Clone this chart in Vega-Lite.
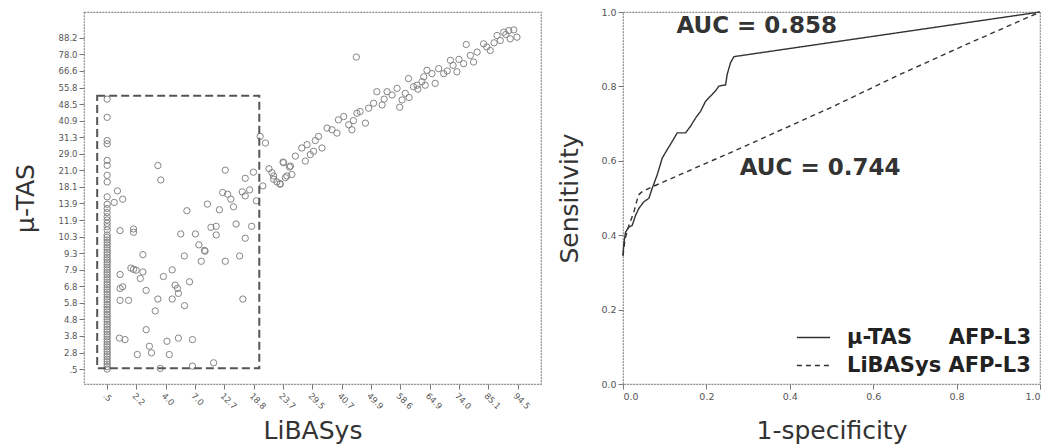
{
  "$schema": "https://vega.github.io/schema/vega-lite/v6.json",
  "padding": {"left": 12, "top": 6, "right": 4, "bottom": 0},
  "spacing": 15,
  "background": "white",
  "resolve": {"scale": {"strokeDash": "independent"}, "legend": {"strokeDash": "independent"}},
  "config": {
    "view": {"stroke": "#8a8a8a", "strokeWidth": 1.2, "strokeDash": [2, 1]},
    "font": "DejaVu Sans",
    "axis": {
      "grid": false, "domain": false, "tickColor": "#777", "tickSize": 5, "labelOverlap": false,
      "labelColor": "#555", "titleColor": "#333", "titleFontWeight": "normal",
      "titleFont": "DejaVu Sans", "labelFont": "DejaVu Sans", "titleFontSize": 25
    }
  },
  "datasets": {
    "scatter": [
      {"lib":0,"tas":0},{"lib":0,"tas":0.15},{"lib":0,"tas":0.3},{"lib":0,"tas":0.45},{"lib":0,"tas":0.6},{"lib":0,"tas":0.75},{"lib":0,"tas":0.9},{"lib":0,"tas":1.05},{"lib":0,"tas":1.2},{"lib":0,"tas":1.35},{"lib":0,"tas":1.5},{"lib":0,"tas":1.65},{"lib":0,"tas":1.8},{"lib":0,"tas":1.95},{"lib":0,"tas":2.1},{"lib":0,"tas":2.25},{"lib":0,"tas":2.4},{"lib":0,"tas":2.55},{"lib":0,"tas":2.7},{"lib":0,"tas":2.85},{"lib":0,"tas":3.0},{"lib":0,"tas":3.15},{"lib":0,"tas":3.3},{"lib":0,"tas":3.45},{"lib":0,"tas":3.6},{"lib":0,"tas":3.75},{"lib":0,"tas":3.9},{"lib":0,"tas":4.05},{"lib":0,"tas":4.2},{"lib":0,"tas":4.35},{"lib":0,"tas":4.5},{"lib":0,"tas":4.65},{"lib":0,"tas":4.8},{"lib":0,"tas":4.95},{"lib":0,"tas":5.1},{"lib":0,"tas":5.25},{"lib":0,"tas":5.4},{"lib":0,"tas":5.55},{"lib":0,"tas":5.7},{"lib":0,"tas":5.85},{"lib":0,"tas":6.0},{"lib":0,"tas":6.15},{"lib":0,"tas":6.3},{"lib":0,"tas":6.45},{"lib":0,"tas":6.6},{"lib":0,"tas":6.75},{"lib":0,"tas":6.9},{"lib":0,"tas":7.05},{"lib":0,"tas":7.2},{"lib":0,"tas":7.35},{"lib":0,"tas":7.5},{"lib":0,"tas":7.65},{"lib":0,"tas":7.8},{"lib":0,"tas":7.95},{"lib":0,"tas":8.1},
      {"lib":0,"tas":8.4},{"lib":0,"tas":8.6},{"lib":0,"tas":8.8},{"lib":0,"tas":9.0},{"lib":0,"tas":9.2},{"lib":0,"tas":9.45},{"lib":0,"tas":9.7},{"lib":0,"tas":9.95},{"lib":0,"tas":10.4},{"lib":0,"tas":11.3},{"lib":0,"tas":11.7},{"lib":0,"tas":12.3},{"lib":0,"tas":12.6},{"lib":0,"tas":13.6},{"lib":0,"tas":13.8},{"lib":0,"tas":15.2},{"lib":0,"tas":16.3},
      {"lib":0.35,"tas":10.76},{"lib":0.53,"tas":10.26},{"lib":0.24,"tas":10.06},{"lib":0.44,"tas":8.36},{"lib":0.9,"tas":8.46},{"lib":0.9,"tas":8.26},{"lib":1.73,"tas":12.29},{"lib":1.83,"tas":11.42},{"lib":4.03,"tas":12.01},{"lib":1.22,"tas":6.91},{"lib":0.44,"tas":5.71},{"lib":0.81,"tas":6.1},{"lib":0.9,"tas":6.02},{"lib":0.99,"tas":5.97},{"lib":1.22,"tas":5.87},{"lib":1.13,"tas":5.47},{"lib":0.44,"tas":4.87},{"lib":0.53,"tas":4.97},{"lib":0.44,"tas":4.15},{"lib":0.73,"tas":4.15},{"lib":1.33,"tas":4.75},{"lib":1.92,"tas":5.59},{"lib":2.22,"tas":5.99},{"lib":2.81,"tas":5.27},{"lib":2.32,"tas":5.07},{"lib":2.4,"tas":4.87},{"lib":2.43,"tas":4.57},{"lib":1.73,"tas":4.23},{"lib":2.22,"tas":4.23},{"lib":2.64,"tas":3.83},{"lib":1.64,"tas":3.51},{"lib":1.33,"tas":2.38},{"lib":0.42,"tas":1.87},{"lib":0.61,"tas":1.78},{"lib":1.44,"tas":1.38},{"lib":1.51,"tas":0.98},{"lib":1.03,"tas":0.88},{"lib":2.04,"tas":1.68},{"lib":2.43,"tas":1.87},{"lib":2.91,"tas":1.78},{"lib":2.12,"tas":0.88},{"lib":1.81,"tas":0.04},{"lib":2.91,"tas":0.18},{"lib":3.63,"tas":0.38},{"lib":2.51,"tas":8.16},{"lib":3.01,"tas":8.16},{"lib":2.72,"tas":9.56},{"lib":2.63,"tas":6.83},{"lib":3.13,"tas":7.5},{"lib":3.32,"tas":7.17},{"lib":3.34,"tas":7.12},{"lib":3.21,"tas":6.51},{"lib":3.42,"tas":9.96},{"lib":3.54,"tas":8.56},{"lib":3.72,"tas":8.62},{"lib":3.72,"tas":8.1},{"lib":3.83,"tas":9.62},{"lib":4.03,"tas":6.51},{"lib":3.94,"tas":10.66},{"lib":4.11,"tas":10.56},{"lib":4.22,"tas":10.26},{"lib":4.31,"tas":9.8},{"lib":4.4,"tas":8.76},{"lib":4.52,"tas":6.83},{"lib":4.63,"tas":4.23},{"lib":4.71,"tas":7.9},{"lib":4.93,"tas":8.62},{"lib":4.61,"tas":10.7},{"lib":4.71,"tas":10.46},{"lib":4.86,"tas":10.82},{"lib":4.71,"tas":11.52},{"lib":4.99,"tas":11.89},{"lib":5.09,"tas":10.16},{"lib":5.31,"tas":11.06},{"lib":5.22,"tas":14.05},{"lib":5.4,"tas":13.65},{"lib":5.52,"tas":12.1},{"lib":5.62,"tas":11.86},{"lib":5.68,"tas":11.46},{"lib":5.79,"tas":11.3},{"lib":5.9,"tas":11.2},{"lib":6.0,"tas":12.5},{"lib":6.13,"tas":11.66},{"lib":6.22,"tas":12.2},
      {"lib":8.5,"tas":18.84},{"lib":12.25,"tas":19.6},
      {"lib":13.3,"tas":20.14},{"lib":13.53,"tas":20.34},{"lib":13.7,"tas":20.44},{"lib":13.87,"tas":20.48},{"lib":13.98,"tas":20.04},{"lib":13.75,"tas":19.94},{"lib":13.41,"tas":19.84},{"lib":13.07,"tas":19.24},{"lib":12.84,"tas":19.64},{"lib":12.62,"tas":19.14},{"lib":12.39,"tas":18.94},{"lib":12.5,"tas":18.54},{"lib":12.16,"tas":18.44},{"lib":11.93,"tas":17.95},{"lib":11.8,"tas":18.34},{"lib":11.71,"tas":18.64},{"lib":11.48,"tas":17.84},{"lib":11.31,"tas":18.14},{"lib":11.19,"tas":17.25},{"lib":11.08,"tas":17.84},{"lib":10.91,"tas":18.04},{"lib":10.8,"tas":17.65},{"lib":10.85,"tas":17.14},{"lib":10.74,"tas":17.35},{"lib":10.57,"tas":17.14},{"lib":10.45,"tas":17.05},{"lib":10.28,"tas":17.54},{"lib":10.17,"tas":16.65},{"lib":10.06,"tas":16.25},{"lib":9.98,"tas":15.81},{"lib":9.89,"tas":16.95},{"lib":9.72,"tas":16.55},{"lib":9.55,"tas":16.75},{"lib":9.38,"tas":15.95},{"lib":9.2,"tas":16.75},{"lib":9.09,"tas":16.05},{"lib":8.92,"tas":15.75},{"lib":8.81,"tas":14.85},{"lib":8.63,"tas":15.55},{"lib":8.52,"tas":15.45},{"lib":8.35,"tas":14.45},{"lib":8.24,"tas":14.75},{"lib":8.07,"tas":15.25},{"lib":7.89,"tas":15.05},{"lib":7.84,"tas":14.25},{"lib":7.67,"tas":14.45},{"lib":7.5,"tas":14.55},{"lib":7.21,"tas":14.05},{"lib":7.33,"tas":13.35},{"lib":7.04,"tas":13.15},{"lib":6.93,"tas":12.95},{"lib":6.76,"tas":12.56},{"lib":6.64,"tas":13.35},{"lib":6.42,"tas":12.86},{"lib":6.25,"tas":12.26},{"lib":6.02,"tas":12.46},{"lib":6.08,"tas":11.56},{"lib":5.9,"tas":11.16},{"lib":5.68,"tas":11.66},{"lib":6.3,"tas":11.75},{"lib":6.82,"tas":13.55},
      {"lib":12.0,"tas":18.7},{"lib":12.95,"tas":19.45},{"lib":13.2,"tas":19.7},{"lib":11.6,"tas":18.0},{"lib":10.6,"tas":16.9},{"lib":9.45,"tas":16.3},{"lib":8.4,"tas":15.0},{"lib":7.1,"tas":13.8},{"lib":10.3,"tas":16.4},{"lib":13.6,"tas":20.2}
    ],
    "box": [{"x1": -0.34, "x2": 5.19, "y1": 0.05, "y2": 16.5}],
    "roc": [
      {"curve":"µ-TAS\u00a0\u00a0\u00a0\u00a0\u00a0AFP-L3","i":0,"fpr":0,"tpr":0.345},
      {"curve":"µ-TAS\u00a0\u00a0\u00a0\u00a0\u00a0AFP-L3","i":1,"fpr":0.002,"tpr":0.377},
      {"curve":"µ-TAS\u00a0\u00a0\u00a0\u00a0\u00a0AFP-L3","i":2,"fpr":0.006,"tpr":0.408},
      {"curve":"µ-TAS\u00a0\u00a0\u00a0\u00a0\u00a0AFP-L3","i":3,"fpr":0.014,"tpr":0.422},
      {"curve":"µ-TAS\u00a0\u00a0\u00a0\u00a0\u00a0AFP-L3","i":4,"fpr":0.022,"tpr":0.426},
      {"curve":"µ-TAS\u00a0\u00a0\u00a0\u00a0\u00a0AFP-L3","i":5,"fpr":0.030,"tpr":0.453},
      {"curve":"µ-TAS\u00a0\u00a0\u00a0\u00a0\u00a0AFP-L3","i":6,"fpr":0.038,"tpr":0.472},
      {"curve":"µ-TAS\u00a0\u00a0\u00a0\u00a0\u00a0AFP-L3","i":7,"fpr":0.05,"tpr":0.49},
      {"curve":"µ-TAS\u00a0\u00a0\u00a0\u00a0\u00a0AFP-L3","i":8,"fpr":0.062,"tpr":0.499},
      {"curve":"µ-TAS\u00a0\u00a0\u00a0\u00a0\u00a0AFP-L3","i":9,"fpr":0.07,"tpr":0.526},
      {"curve":"µ-TAS\u00a0\u00a0\u00a0\u00a0\u00a0AFP-L3","i":10,"fpr":0.082,"tpr":0.562},
      {"curve":"µ-TAS\u00a0\u00a0\u00a0\u00a0\u00a0AFP-L3","i":11,"fpr":0.094,"tpr":0.607},
      {"curve":"µ-TAS\u00a0\u00a0\u00a0\u00a0\u00a0AFP-L3","i":12,"fpr":0.106,"tpr":0.63},
      {"curve":"µ-TAS\u00a0\u00a0\u00a0\u00a0\u00a0AFP-L3","i":13,"fpr":0.118,"tpr":0.652},
      {"curve":"µ-TAS\u00a0\u00a0\u00a0\u00a0\u00a0AFP-L3","i":14,"fpr":0.13,"tpr":0.675},
      {"curve":"µ-TAS\u00a0\u00a0\u00a0\u00a0\u00a0AFP-L3","i":15,"fpr":0.15,"tpr":0.675},
      {"curve":"µ-TAS\u00a0\u00a0\u00a0\u00a0\u00a0AFP-L3","i":16,"fpr":0.162,"tpr":0.693},
      {"curve":"µ-TAS\u00a0\u00a0\u00a0\u00a0\u00a0AFP-L3","i":17,"fpr":0.174,"tpr":0.715},
      {"curve":"µ-TAS\u00a0\u00a0\u00a0\u00a0\u00a0AFP-L3","i":18,"fpr":0.186,"tpr":0.733},
      {"curve":"µ-TAS\u00a0\u00a0\u00a0\u00a0\u00a0AFP-L3","i":19,"fpr":0.198,"tpr":0.76},
      {"curve":"µ-TAS\u00a0\u00a0\u00a0\u00a0\u00a0AFP-L3","i":20,"fpr":0.21,"tpr":0.774},
      {"curve":"µ-TAS\u00a0\u00a0\u00a0\u00a0\u00a0AFP-L3","i":21,"fpr":0.222,"tpr":0.788},
      {"curve":"µ-TAS\u00a0\u00a0\u00a0\u00a0\u00a0AFP-L3","i":22,"fpr":0.23,"tpr":0.801},
      {"curve":"µ-TAS\u00a0\u00a0\u00a0\u00a0\u00a0AFP-L3","i":23,"fpr":0.246,"tpr":0.804},
      {"curve":"µ-TAS\u00a0\u00a0\u00a0\u00a0\u00a0AFP-L3","i":24,"fpr":0.25,"tpr":0.833},
      {"curve":"µ-TAS\u00a0\u00a0\u00a0\u00a0\u00a0AFP-L3","i":25,"fpr":0.258,"tpr":0.864},
      {"curve":"µ-TAS\u00a0\u00a0\u00a0\u00a0\u00a0AFP-L3","i":26,"fpr":0.266,"tpr":0.88},
      {"curve":"µ-TAS\u00a0\u00a0\u00a0\u00a0\u00a0AFP-L3","i":27,"fpr":1.0,"tpr":1.0},
      {"curve":"LiBASys AFP-L3","i":0,"fpr":0,"tpr":0.345},
      {"curve":"LiBASys AFP-L3","i":1,"fpr":0.005,"tpr":0.39},
      {"curve":"LiBASys AFP-L3","i":2,"fpr":0.014,"tpr":0.426},
      {"curve":"LiBASys AFP-L3","i":3,"fpr":0.026,"tpr":0.462},
      {"curve":"LiBASys AFP-L3","i":4,"fpr":0.037,"tpr":0.508},
      {"curve":"LiBASys AFP-L3","i":5,"fpr":0.046,"tpr":0.517},
      {"curve":"LiBASys AFP-L3","i":6,"fpr":0.07,"tpr":0.53},
      {"curve":"LiBASys AFP-L3","i":7,"fpr":0.278,"tpr":0.632},
      {"curve":"LiBASys AFP-L3","i":8,"fpr":0.502,"tpr":0.745},
      {"curve":"LiBASys AFP-L3","i":9,"fpr":0.662,"tpr":0.831},
      {"curve":"LiBASys AFP-L3","i":10,"fpr":0.822,"tpr":0.912},
      {"curve":"LiBASys AFP-L3","i":11,"fpr":1.0,"tpr":1.0}
    ],
    "auc": [
      {"fpr": 0.128, "tpr": 0.962, "label": "AUC = 0.858"},
      {"fpr": 0.28, "tpr": 0.58, "label": "AUC = 0.744"}
    ]
  },
  "hconcat": [
    {
      "width": 457,
      "height": 372,
      "layer": [
        {
          "data": {"name": "scatter"},
          "mark": {"type": "point", "shape": "circle", "filled": false, "stroke": "#858585", "strokeWidth": 1, "size": 40, "opacity": 1},
          "encoding": {
            "x": {
              "field": "lib", "type": "quantitative",
              "scale": {"domain": [-0.79, 14.8], "nice": false, "zero": false},
              "axis": {
                "title": "LiBASys", "values": [0,1,2,3,4,5,6,7,8,9,10,11,12,13,14], "tickCount": 30, "labelOverlap": false,
                "labelExpr": "['.5','2.2','4.0','7.0','12.7','18.8','23.7','29.5','40.7','49.9','58.6','64.9','74.0','85.1','94.5'][datum.value]",
                "labelAngle": 45, "labelAlign": "left", "labelBaseline": "top", "labelFontSize": 8.5, "labelPadding": 2,
                "titlePadding": 8
              }
            },
            "y": {
              "field": "tas", "type": "quantitative",
              "scale": {"domain": [-0.9, 21.56], "nice": false, "zero": false},
              "axis": {
                "title": "µ-TAS", "values": [0,1,2,3,4,5,6,7,8,9,10,11,12,13,14,15,16,17,18,19,20], "tickCount": 30, "labelOverlap": false,
                "labelExpr": "['.5','2.8','3.8','4.8','5.8','6.8','7.9','9.3','10.3','11.9','13.9','18.1','21.0','29.0','31.3','40.9','48.5','55.8','66.6','78.0','88.2'][datum.value]",
                "labelFontSize": 8.5, "labelPadding": 2, "titlePadding": 20
              }
            }
          }
        },
        {
          "data": {"name": "box"},
          "mark": {"type": "rect", "fill": null, "stroke": "#555", "strokeWidth": 2, "strokeDash": [8, 4]},
          "encoding": {
            "x": {"field": "x1", "type": "quantitative"},
            "x2": {"field": "x2"},
            "y": {"field": "y1", "type": "quantitative"},
            "y2": {"field": "y2"}
          }
        }
      ]
    },
    {
      "width": 417,
      "height": 372,
      "layer": [
        {
          "data": {"name": "roc"},
          "mark": {"type": "line", "strokeWidth": 1.4, "color": "#333"},
          "encoding": {
            "x": {
              "field": "fpr", "type": "quantitative",
              "scale": {"domain": [0, 1], "nice": false},
              "axis": {"title": "1-specificity", "values": [0, 0.2, 0.4, 0.6, 0.8, 1.0], "tickCount": 10, "format": ".1f", "labelFontSize": 9.5, "titlePadding": 18, "labelOverlap": false}
            },
            "y": {
              "field": "tpr", "type": "quantitative",
              "scale": {"domain": [0, 1], "nice": false},
              "axis": {"title": "Sensitivity", "values": [0, 0.2, 0.4, 0.6, 0.8, 1.0], "tickCount": 10, "format": ".1f", "labelFontSize": 9.5, "titlePadding": 18, "labelOverlap": false}
            },
            "order": {"field": "i", "type": "quantitative"},
            "strokeDash": {
              "field": "curve", "type": "nominal",
              "scale": {"domain": ["µ-TAS\u00a0\u00a0\u00a0\u00a0\u00a0AFP-L3", "LiBASys AFP-L3"], "range": [[1, 0], [5, 4]]},
              "legend": {
                "title": null, "orient": "bottom-right", "offset": 8,
                "symbolType": "stroke", "symbolSize": 1100, "symbolStrokeWidth": 1.6, "symbolStrokeColor": "#333",
                "labelFontSize": 21, "labelFontWeight": "bold", "labelColor": "#222", "labelFont": "DejaVu Sans",
                "rowPadding": -6, "labelOffset": 16, "labelLimit": 400
              }
            }
          }
        },
        {
          "data": {"name": "auc"},
          "mark": {"type": "text", "align": "left", "baseline": "middle", "fontSize": 23, "fontWeight": "bold", "color": "#333", "font": "DejaVu Sans"},
          "encoding": {
            "x": {"field": "fpr", "type": "quantitative"},
            "y": {"field": "tpr", "type": "quantitative"},
            "text": {"field": "label"}
          }
        }
      ]
    }
  ]
}
